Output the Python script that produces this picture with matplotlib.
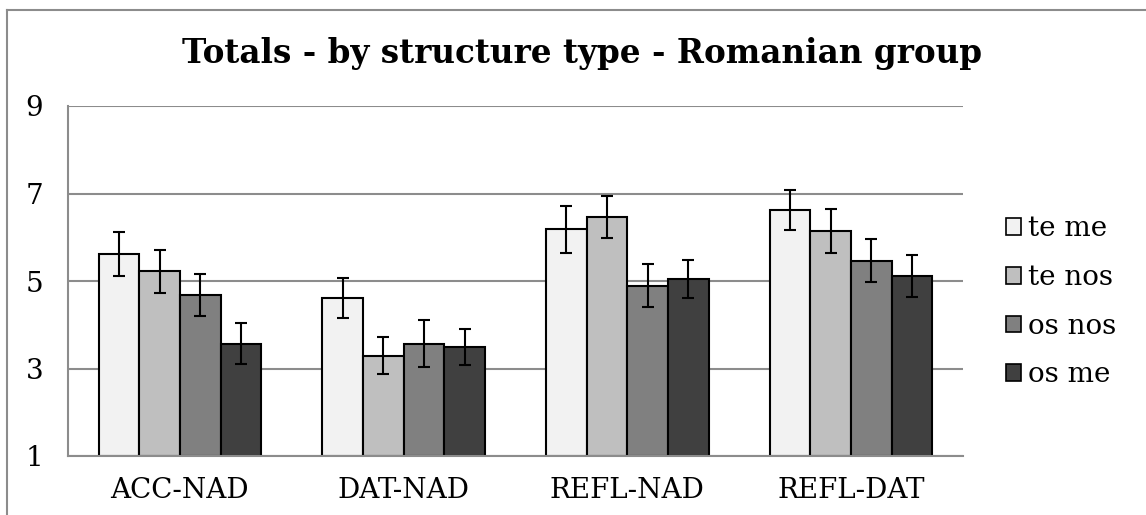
import matplotlib
matplotlib.use("Agg")
import matplotlib.pyplot as plt
import numpy as np
from matplotlib.lines import Line2D

categories = ["ACC-NAD", "DAT-NAD", "REFL-NAD", "REFL-DAT"]
series_names = ["te me", "te nos", "os nos", "os me"]
te_me = [5.62, 4.61, 6.18, 6.62]
te_nos = [5.22, 3.29, 6.46, 6.14]
os_nos = [4.67, 3.57, 4.89, 5.46]
os_me = [3.57, 3.50, 5.04, 5.11]
te_me_err = [0.50, 0.45, 0.53, 0.46]
te_nos_err = [0.50, 0.42, 0.48, 0.50]
os_nos_err = [0.48, 0.53, 0.49, 0.49]
os_me_err = [0.47, 0.41, 0.43, 0.48]
y_ticks = [1, 3, 5, 7, 9]

colors = ["#f2f2f2", "#bfbfbf", "#808080", "#404040"]
values = [te_me, te_nos, os_nos, os_me]
errors = [te_me_err, te_nos_err, os_nos_err, os_me_err]

plt.rcParams['font.family'] = ['DejaVu Serif']

W, H = 1146, 515
fig = plt.figure(figsize=(W / 100, H / 100), dpi=100)
ax = fig.add_axes([68 / W, 1 - 456 / H, (963 - 68) / W, (456 - 106) / H])

x = np.arange(len(categories))
bw = 1 / 5.5
for i, (vals, errs, c, name) in enumerate(zip(values, errors, colors, series_names)):
    pos = x + (i - 1.5) * bw
    ax.bar(pos, np.array(vals) - 1, bottom=1, width=bw, color=c, edgecolor="black",
           linewidth=1.5, label=name, zorder=2)
    ax.errorbar(pos, vals, yerr=errs, fmt="none", ecolor="black", elinewidth=1.5,
                capsize=4.5, capthick=1.5, zorder=3)

ax.set_xlim(-0.5, len(categories) - 0.5)
ax.set_ylim(1, 9)
ax.set_yticks(y_ticks)
ax.set_yticklabels([str(t) for t in y_ticks], fontsize=20)
ax.set_xticks(x)
ax.set_xticklabels(categories, fontsize=20)
ax.tick_params(axis="both", length=0)
ax.tick_params(axis="y", pad=18)
ax.tick_params(axis="x", pad=15)
ax.yaxis.grid(True, color="#8c8c8c", linewidth=1.5, zorder=0)
ax.set_axisbelow(True)
for s in ["top", "right"]:
    ax.spines[s].set_visible(False)
for s in ["left", "bottom"]:
    ax.spines[s].set_color("#8c8c8c")
    ax.spines[s].set_linewidth(1.5)

fig.text(582 / W, 1 - 63 / H, "Totals - by structure type - Romanian group",
         ha="center", va="baseline", fontsize=23.5, fontweight="bold")

handles = [plt.Rectangle((0, 0), 1, 1, facecolor=c, edgecolor="black", linewidth=1.2) for c in colors]
leg = fig.legend(handles, series_names, loc="center left",
                 bbox_to_anchor=(1006 / W, 1 - 302 / H), frameon=False, fontsize=20,
                 handlelength=0.55, handleheight=0.55, handletextpad=0.25, labelspacing=0.78,
                 borderpad=0, borderaxespad=0)

fig.add_artist(Line2D([7 / W, 7 / W], [0, 1 - 10 / H], color="#8c8c8c", linewidth=1.5,
                      transform=fig.transFigure))
fig.add_artist(Line2D([7 / W, 1], [1 - 10 / H, 1 - 10 / H], color="#8c8c8c", linewidth=1.5,
                      transform=fig.transFigure))

fig.savefig("out.png", dpi=100, facecolor="white")
